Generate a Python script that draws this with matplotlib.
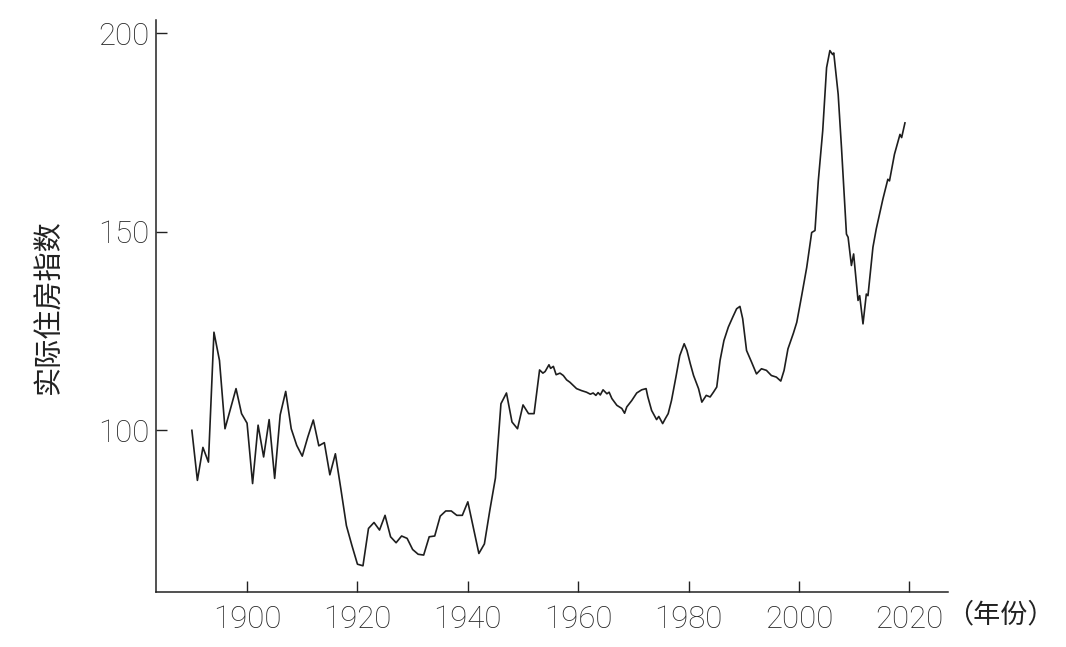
import matplotlib
matplotlib.use("Agg")
import matplotlib.pyplot as plt

# Annual values 1890-1952
years_annual = list(range(1890, 1953))
values_annual = [
    100.0, 87.4, 95.7, 92.0, 124.7, 117.6, 100.4, 105.5, 110.5, 104.2,
    101.8, 86.6, 101.3, 93.3, 102.7, 87.9, 103.9, 109.8, 100.4, 96.2,
    93.5, 98.3, 102.6, 96.1, 96.9, 88.8, 94.1, 85.2, 76.0, 71.0,
    66.3, 65.9, 75.3, 76.8, 74.9, 78.6, 73.2, 71.7, 73.4, 72.8,
    70.0, 68.8, 68.6, 73.2, 73.4, 78.4, 79.7, 79.7, 78.6, 78.6,
    82.0, 75.5, 69.0, 71.4, 80.0, 88.0, 106.7, 109.4, 102.1, 100.4,
    106.4, 104.2, 104.2,
]

# Higher-frequency readings 1953-2019
years_recent = [
    1953.0, 1953.6, 1954.0, 1954.7, 1955.0, 1955.5, 1956.0, 1956.7, 1957.3, 1957.9,
    1958.5, 1959.1, 1959.7, 1960.6, 1961.5, 1962.2, 1962.7, 1963.2, 1963.6, 1964.0,
    1964.5, 1965.2, 1965.6, 1966.1, 1967.0, 1967.9, 1968.4, 1968.8, 1969.7, 1970.6,
    1971.5, 1972.3, 1972.6, 1973.3, 1974.2, 1974.6, 1975.3, 1975.8, 1976.3, 1976.9,
    1977.7, 1978.4, 1979.2, 1979.7, 1980.3, 1980.9, 1981.8, 1982.4, 1983.2, 1983.9,
    1984.5, 1985.1, 1985.7, 1986.4, 1987.2, 1988.0, 1988.7, 1989.3, 1989.8, 1990.5,
    1991.4, 1992.3, 1993.2, 1994.1, 1995.0, 1995.9, 1996.7, 1997.3, 1998.0, 1999.0,
    1999.6, 2000.5, 2001.4, 2002.3, 2002.9, 2003.5, 2004.3, 2005.0, 2005.6, 2006.1,
    2006.3, 2007.1, 2007.7, 2008.6, 2008.9, 2009.5, 2009.9, 2010.7, 2011.0, 2011.6,
    2012.2, 2012.5, 2013.4, 2014.0, 2015.2, 2016.1, 2016.4, 2017.3, 2018.3, 2018.6,
    2019.2,
]
values_recent = [
    115.2, 114.4, 114.8, 116.5, 115.6, 116.1, 114.0, 114.4, 113.8, 112.7,
    112.1, 111.3, 110.5, 110.0, 109.6, 109.1, 109.4, 108.8, 109.5, 108.9,
    110.2, 109.2, 109.6, 108.0, 106.3, 105.5, 104.3, 105.9, 107.5, 109.4,
    110.2, 110.5, 108.5, 105.0, 102.7, 103.5, 101.7, 103.0, 104.2, 107.5,
    113.4, 118.8, 121.8, 120.1, 116.8, 113.8, 110.5, 107.1, 108.8, 108.4,
    109.6, 110.9, 117.6, 122.6, 126.0, 128.5, 130.6, 131.2, 128.1, 120.1,
    117.2, 114.2, 115.5, 115.1, 113.8, 113.4, 112.4, 115.1, 120.5, 124.5,
    127.2, 134.0, 141.0, 149.8, 150.3, 162.8, 175.4, 191.3, 195.6, 194.6,
    195.0, 184.6, 171.2, 149.4, 148.6, 141.5, 144.4, 132.7, 133.9, 126.8,
    134.3, 133.9, 146.1, 150.7, 158.2, 163.2, 162.8, 169.5, 174.5, 173.7,
    177.4,
]

x_ticks = [1900, 1920, 1940, 1960, 1980, 2000, 2020]
y_ticks = [100, 150, 200]
y_label = "实际住房指数"
x_unit = "（年份）"

years = years_annual + years_recent
values = values_annual + values_recent

plt.rcParams['font.family'] = ['Roboto', 'DejaVu Sans']

fig = plt.figure(figsize=(10.66, 6.47), dpi=100)
ax = fig.add_axes([156/1066, 55/647, (948-156)/1066, (592-20)/647])
ax.plot(years, values, color='#1e1e1e', linewidth=1.2)

ax.set_xlim(1883.5, 2027)
ax.set_ylim(59.3, 203.3)
ax.set_xticks(x_ticks)
ax.set_yticks(y_ticks)
for s in ['top', 'right']:
    ax.spines[s].set_visible(False)
for s in ['left', 'bottom']:
    ax.spines[s].set_color('#222222')
    ax.spines[s].set_linewidth(1.1)
ax.tick_params(axis='both', direction='in', length=8, width=1.0, color='#222222',
               labelsize=22.5, labelcolor='#262626')
ax.tick_params(axis='x', pad=9)
ax.tick_params(axis='y', pad=5)
for lab in ax.get_xticklabels() + ax.get_yticklabels():
    lab.set_fontweight('light')

fig.text(50/1066, 1 - 307/647, y_label, rotation=90, ha='center', va='center',
         fontsize=21, family=['Noto Sans CJK SC', 'DejaVu Sans'], color='#222222')
fig.text(946/1066, 1 - 615/647, x_unit, ha='left', va='center',
         fontsize=19.5, family=['Noto Sans CJK SC', 'DejaVu Sans'], color='#222222')

fig.savefig('out.png', dpi=100)
